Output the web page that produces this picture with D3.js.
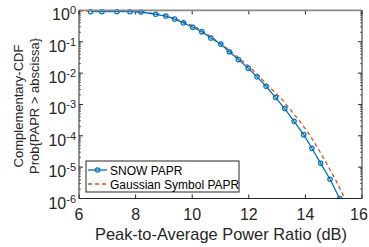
<!DOCTYPE html>
<html>
<head>
<meta charset="utf-8">
<script src="https://cdn.jsdelivr.net/npm/d3@7"></script>
<style>
  html, body { margin: 0; padding: 0; background: #fff; }
  svg { display: block; font-family: "Liberation Sans", Arial, Helvetica, sans-serif; }
</style>
</head>
<body>
<svg id="chart" width="369" height="247"></svg>
<script>
// ---- data ----
const snowX = [6.41, 6.81, 7.34, 7.80, 8.19, 8.71, 9.07, 9.38, 9.69, 10.02, 10.34, 10.66, 11.01, 11.31, 11.63, 11.98, 12.29, 12.61, 12.95, 13.27, 13.60, 13.94, 14.23, 14.54, 14.87, 15.21];
const snowY = [0.91, 0.91, 0.91, 0.91, 0.89, 0.75, 0.66, 0.53, 0.40, 0.29, 0.21, 0.131, 0.084, 0.048, 0.027, 0.0144, 0.0076, 0.0038, 0.00166, 7.4e-4, 2.9e-4, 1.09e-4, 4.0e-5, 1.32e-5, 4.1e-6, 1.0e-6];
const gaussX = [6.0, 7.0, 7.8, 8.3, 8.8, 9.3, 9.7, 10.10, 10.75, 11.40, 12.04, 12.72, 13.13, 13.83, 14.14, 14.46, 14.75, 15.05, 15.34, 15.45];
const gaussY = [0.95, 0.95, 0.94, 0.88, 0.76, 0.58, 0.43, 0.30, 0.128, 0.047, 0.0155, 0.0037, 1.6e-3, 2.7e-4, 1.1e-4, 3.8e-5, 1.3e-5, 4.2e-6, 1.26e-6, 8e-7];
const xTicks = [6, 8, 10, 12, 14, 16];
const yTickExps = [0, -1, -2, -3, -4, -5, -6];
const seriesNames = ["SNOW PAPR", "Gaussian Symbol PAPR"];
const xLabel = "Peak-to-Average Power Ratio (dB)";
const yLabelLines = ["Complementary-CDF", "Prob{PAPR > abscissa}"];

// ---- layout ----
const L = 79, R = 362, T = 10.4, B = 198.5;
const blue = "#0072BD", orange = "#D95319", axisCol = "#262626";
const W = 369;
const svg = d3.select("#chart");
const x = d3.scaleLinear().domain([6, 16]).range([L, R]);
const y = d3.scaleLog().domain([1e-6, 1]).range([B, T]);

svg.append("defs").append("clipPath").attr("id", "clip")
  .append("rect").attr("x", L).attr("y", T - 3).attr("width", R - L).attr("height", B - T + 3);

// tick marks (inward)
const g = svg.append("g").attr("stroke", axisCol).attr("stroke-width", 1);
xTicks.forEach(t => {
  g.append("line").attr("x1", x(t)).attr("x2", x(t)).attr("y1", B).attr("y2", B - 4);
  g.append("line").attr("x1", x(t)).attr("x2", x(t)).attr("y1", T).attr("y2", T + 4);
});
yTickExps.forEach(e => {
  const v = Math.pow(10, e);
  g.append("line").attr("x1", L).attr("x2", L + 4).attr("y1", y(v)).attr("y2", y(v));
  g.append("line").attr("x1", R).attr("x2", R - 4).attr("y1", y(v)).attr("y2", y(v));
  if (e > -6) {
    for (let m = 2; m <= 9; m++) {
      const mv = v / 10 * m;
      g.append("line").attr("x1", L).attr("x2", L + 2).attr("y1", y(mv)).attr("y2", y(mv)).attr("stroke-width", 0.7);
      g.append("line").attr("x1", R).attr("x2", R - 2).attr("y1", y(mv)).attr("y2", y(mv)).attr("stroke-width", 0.7);
    }
  }
});

// lines
const line = d3.line().x(d => x(d[0])).y(d => y(d[1]));
const gaussData = gaussX.map((v, i) => [v, gaussY[i]]);
const snowData = snowX.map((v, i) => [v, snowY[i]]);
const plot = svg.append("g").attr("clip-path", "url(#clip)");
plot.append("path").datum(gaussData).attr("d", line)
  .attr("fill", "none").attr("stroke", orange).attr("stroke-width", 1.3).attr("stroke-dasharray", "4,3");
plot.append("path").datum(snowData).attr("d", line)
  .attr("fill", "none").attr("stroke", blue).attr("stroke-width", 1.3);
plot.selectAll("circle.m").data(snowData).enter().append("circle")
  .attr("class", "m").attr("cx", d => x(d[0])).attr("cy", d => y(d[1])).attr("r", 2.2)
  .attr("fill", "none").attr("stroke", blue).attr("stroke-width", 1.2);

// box
svg.append("line").attr("x1", L).attr("x2", R).attr("y1", T).attr("y2", T).attr("stroke", "#8a8a8a").attr("stroke-width", 1.8);
svg.append("line").attr("x1", R).attr("x2", R).attr("y1", T).attr("y2", B).attr("stroke", axisCol).attr("stroke-width", 1);
svg.append("line").attr("x1", L).attr("x2", L).attr("y1", T).attr("y2", B).attr("stroke", axisCol).attr("stroke-width", 1);
svg.append("line").attr("x1", L).attr("x2", R).attr("y1", B).attr("y2", B).attr("stroke", axisCol).attr("stroke-width", 1);

// x tick labels (keep last one inside the window)
svg.append("g").selectAll("text").data(xTicks).enter().append("text")
  .attr("x", d => Math.min(x(d), W - 10)).attr("y", B + 21).attr("text-anchor", "middle")
  .attr("font-size", 16).attr("fill", axisCol).text(d => d);

// y tick labels
const yl = svg.append("g");
yTickExps.forEach(e => {
  const t = yl.append("text").attr("x", 76).attr("y", y(Math.pow(10, e)) + 10)
    .attr("text-anchor", "end").attr("font-size", 16).attr("fill", axisCol);
  t.append("tspan").text("10");
  t.append("tspan").attr("font-size", 11).attr("dy", -6).text(e === 0 ? "0" : "-" + (-e));
});

// axis labels
svg.append("text").attr("x", 221).attr("y", 240).attr("text-anchor", "middle")
  .attr("font-size", 16.4).attr("fill", axisCol).text(xLabel);
const ylab = svg.append("text").attr("transform", "translate(23,106) rotate(-90)")
  .attr("text-anchor", "middle").attr("font-size", 13).attr("fill", axisCol);
ylab.append("tspan").attr("x", 0).attr("y", 0).text(yLabelLines[0]);
ylab.append("tspan").attr("x", 0).attr("y", 16).text(yLabelLines[1]);

// legend
const lg = svg.append("g");
lg.append("rect").attr("x", 86).attr("y", 161).attr("width", 153).attr("height", 31)
  .attr("fill", "#fff").attr("stroke", axisCol).attr("stroke-width", 1);
lg.append("line").attr("x1", 88).attr("x2", 107).attr("y1", 170).attr("y2", 170)
  .attr("stroke", blue).attr("stroke-width", 1.3);
lg.append("circle").attr("cx", 97.5).attr("cy", 170).attr("r", 2.2)
  .attr("fill", "none").attr("stroke", blue).attr("stroke-width", 1.2);
lg.append("line").attr("x1", 88).attr("x2", 107).attr("y1", 184).attr("y2", 184)
  .attr("stroke", orange).attr("stroke-width", 1.3).attr("stroke-dasharray", "4,3");
lg.append("text").attr("x", 110).attr("y", 174.5).attr("font-size", 12).attr("fill", "#000").text(seriesNames[0]);
lg.append("text").attr("x", 110).attr("y", 188.5).attr("font-size", 12).attr("fill", "#000").text(seriesNames[1]);
</script>
</body>
</html>
